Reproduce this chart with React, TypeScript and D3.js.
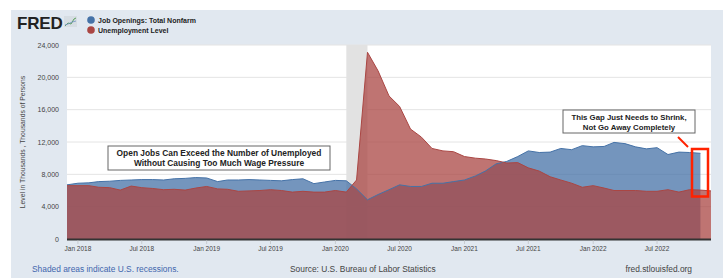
import React from 'react';
import * as d3 from 'd3';

// monthly, Dec 2017 .. Dec 2022 (thousands of persons)
const startMonth = '2017-12';
const jobOpenings = [
  6700,
  6900, 6950, 7100, 7150, 7250, 7300, 7350, 7350, 7300, 7450, 7500, 7600,
  7550, 7100, 7300, 7300, 7350, 7300, 7250, 7200, 7350, 7450, 6850, 7050,
  7250, 7200, 6200, 4850, 5500, 6100, 6700, 6500, 6500, 6900, 6900, 7100,
  7300, 7800, 8400, 9300, 9600, 10200, 10900, 10700, 10750, 11200, 11050, 11550,
  11400, 11450, 11950, 11800, 11400, 11150, 11300, 10450, 10750, 10700, 10600,
];
const unemployment = [
  6600,
  6600, 6600, 6400, 6350, 6050, 6550, 6350, 6250, 6100, 6150, 6050, 6300,
  6500, 6200, 6150, 5900, 5950, 6000, 6100, 6000, 5800, 5900, 5800, 5800,
  6000, 5800, 7300, 23100, 20800, 17700, 16400, 13600, 12600, 11200, 10900, 10800,
  10200, 10000, 9900, 9700, 9400, 9450, 8800, 8400, 7700, 7300, 6900, 6400,
  6600, 6300, 6000, 6000, 6000, 5900, 5900, 6100, 5800, 6100, 6050, 5950,
];
const yTicks = [0, 4000, 8000, 12000, 16000, 20000, 24000];
const xTickLabels = ['Jan 2018', 'Jul 2018', 'Jan 2019', 'Jul 2019', 'Jan 2020', 'Jul 2020', 'Jan 2021', 'Jul 2021', 'Jan 2022', 'Jul 2022'];
const recession = ['2020-02', '2020-04'];
const seriesNames = ['Job Openings: Total Nonfarm', 'Unemployment Level'];

const parseMonth = d3.timeParse('%Y-%m');
const parseTick = d3.timeParse('%b %Y');

const W = 723, H = 278;
const margin = { left: 67, right: 12, top: 45, bottom: 39 };
const BLUE = '#4572a7';
const RED = '#aa4643';
const FONT = '"Liberation Sans", Arial, sans-serif';

export default function App() {
  const start = parseMonth(startMonth) as Date;
  const monthAt = (i: number) => d3.timeMonth.offset(start, i);
  const end = monthAt(unemployment.length - 1);

  const x = d3.scaleTime().domain([start, end]).range([margin.left, W - margin.right]);
  const y = d3.scaleLinear().domain([0, 24000]).range([H - margin.bottom, margin.top]);

  const area = d3.area<number>()
    .x((_, i) => x(monthAt(i)))
    .y0(y(0))
    .y1(d => y(d));
  const line = d3.line<number>()
    .x((_, i) => x(monthAt(i)))
    .y(d => y(d));

  const fmt = d3.format(',');
  const x0 = margin.left, x1 = W - margin.right;
  const rx0 = x(parseMonth(recession[0]) as Date);
  const rx1 = x(parseMonth(recession[1]) as Date);

  return (
    <svg width={W} height={H} style={{ position: 'absolute', left: 0, top: 0, fontFamily: FONT }}>
      <rect width={W} height={H} fill="#fff" />
      <rect x={11} y={10} width={W - 11} height={H - 10} fill="#e1e8f0" />

      {/* header */}
      <text x={17} y={29} fontSize={17} fontWeight={900} fill="#222" letterSpacing={-0.2}>FRED</text>
      <g transform="translate(64,16)">
        <rect width={13} height={11} fill="#d6dde3" />
        <polyline points="1,10 4,7 7,8 10,3 12,2" fill="none" stroke="#5aa05a" strokeWidth={1} />
        <polyline points="1,9 4,8 8,6 12,5" fill="none" stroke="#6d8fbf" strokeWidth={0.8} />
      </g>
      <circle cx={91} cy={20} r={3.8} fill={BLUE} />
      <circle cx={91} cy={30} r={3.8} fill={RED} />
      <text x={98} y={22.5} fontSize={7} fontWeight="bold" fill="#222">{seriesNames[0]}</text>
      <text x={98} y={32.5} fontSize={7} fontWeight="bold" fill="#222">{seriesNames[1]}</text>

      {/* plot */}
      <rect x={x0} y={margin.top} width={x1 - x0} height={y(0) - margin.top} fill="#fff" />
      {yTicks.slice(1).map(t => (
        <line key={t} x1={x0} x2={x1} y1={y(t)} y2={y(t)} stroke="#e4e4e4" strokeWidth={1} />
      ))}
      <rect x={rx0} y={margin.top} width={rx1 - rx0} height={y(0) - margin.top} fill="#e2e2e2" />

      <path d={area(jobOpenings) ?? ''} fill={BLUE} fillOpacity={0.75} />
      <path d={area(unemployment) ?? ''} fill={RED} fillOpacity={0.75} />
      <path d={line(jobOpenings) ?? ''} fill="none" stroke={BLUE} strokeWidth={1} />
      <path d={line(unemployment) ?? ''} fill="none" stroke={RED} strokeWidth={1} />

      <line x1={x0} x2={x1} y1={y(0) + 0.5} y2={y(0) + 0.5} stroke="#333" strokeWidth={2} />

      {yTicks.map(t => (
        <text key={t} x={59} y={y(t) + 2.5} fontSize={7} fill="#444" textAnchor="end">{fmt(t)}</text>
      ))}
      {xTickLabels.map(l => {
        const xx = x(parseTick(l) as Date);
        return (
          <g key={l}>
            <line x1={xx} x2={xx} y1={y(0) + 1.5} y2={y(0) + 5} stroke="#c8ccd0" />
            <text x={xx} y={y(0) + 12} fontSize={6.5} fill="#444" textAnchor="middle">{l}</text>
          </g>
        );
      })}

      <text transform={`translate(25,${(margin.top + y(0)) / 2}) rotate(-90)`} fontSize={6.8} fill="#444" textAnchor="middle">
        Level in Thousands , Thousands of Persons
      </text>

      {/* annotations */}
      <rect x={108} y={146} width={222} height={24} fill="#fff" stroke="#666" strokeWidth={1} />
      <text x={219} y={156} fontSize={8.4} fontWeight="bold" fill="#222" textAnchor="middle">Open Jobs Can Exceed the Number of Unemployed</text>
      <text x={219} y={166} fontSize={8.4} fontWeight="bold" fill="#222" textAnchor="middle">Without Causing Too Much Wage Pressure</text>

      <rect x={563} y={110} width={132} height={23} fill="#fff" stroke="#666" strokeWidth={1} />
      <text x={629} y={119.5} fontSize={7.8} fontWeight="bold" fill="#222" textAnchor="middle">This Gap Just Needs to Shrink,</text>
      <text x={629} y={129.5} fontSize={7.8} fontWeight="bold" fill="#222" textAnchor="middle">Not Go Away Completely</text>
      <line x1={678} y1={137} x2={688} y2={147} stroke="#ff2200" strokeWidth={2} />
      <rect x={692} y={149} width={16} height={47.5} fill="none" stroke="#ff2200" strokeWidth={2.5} />

      {/* footer */}
      <text x={32} y={272} fontSize={8.4} fill="#3f66ad">Shaded areas indicate U.S. recessions.</text>
      <text x={290} y={272} fontSize={8.4} fill="#444">Source: U.S. Bureau of Labor Statistics</text>
      <text x={692} y={272} fontSize={8.4} fill="#444" textAnchor="end">fred.stlouisfed.org</text>
    </svg>
  );
}
